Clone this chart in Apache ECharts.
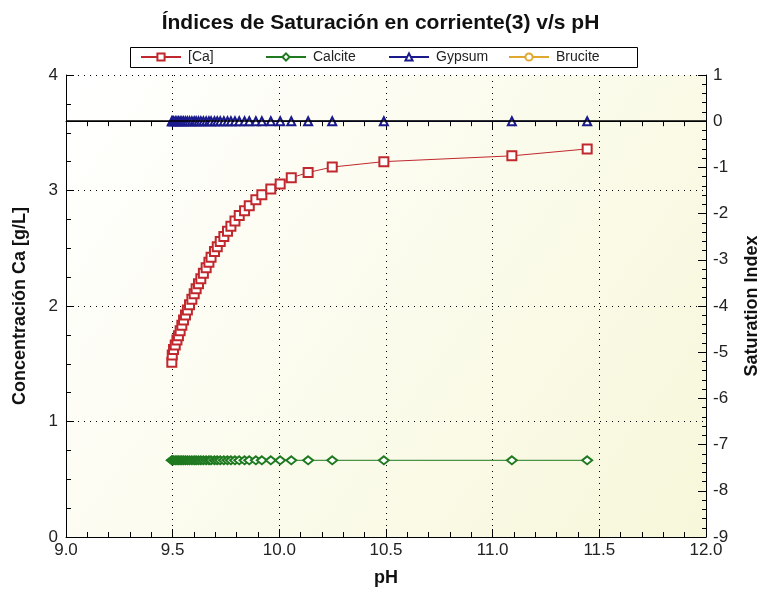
<!DOCTYPE html>
<html>
<head>
<meta charset="utf-8">
<title>Indices de Saturacion</title>
<script src="https://cdn.jsdelivr.net/npm/echarts/dist/echarts.min.js"></script>
<style>
  html, body { margin: 0; padding: 0; background: #fff; }
  #chart { width: 761px; height: 592px; }
</style>
</head>
<body>
<div id="chart"></div>
<script>
// pH of each simulation step (shared x for all series)
const phValues = [9.496, 9.498, 9.504, 9.512, 9.520, 9.527, 9.535, 9.543, 9.551, 9.560,
  9.569, 9.579, 9.590, 9.601, 9.610, 9.621, 9.632, 9.644, 9.657, 9.670,
  9.680, 9.696, 9.709, 9.723, 9.740, 9.757, 9.773, 9.792, 9.812, 9.837,
  9.859, 9.890, 9.918, 9.960, 10.004, 10.056, 10.135, 10.248, 10.49, 11.09, 11.443]
// [Ca] g/L (left axis)
const caValues = [1.512, 1.575, 1.624, 1.662, 1.705, 1.742, 1.786, 1.833, 1.878, 1.922,
  1.965, 2.011, 2.058, 2.107, 2.150, 2.193, 2.237, 2.284, 2.332, 2.379,
  2.422, 2.471, 2.514, 2.558, 2.601, 2.648, 2.691, 2.737, 2.783, 2.824,
  2.867, 2.919, 2.963, 3.012, 3.056, 3.110, 3.156, 3.203, 3.25, 3.30, 3.36]
// saturation indices (right axis)
const calciteSI = [-7.34, -7.34, -7.34, -7.34, -7.34, -7.34, -7.34, -7.34, -7.34, -7.34,
  -7.34, -7.34, -7.34, -7.34, -7.34, -7.34, -7.34, -7.34, -7.34, -7.34,
  -7.34, -7.34, -7.34, -7.34, -7.34, -7.34, -7.34, -7.34, -7.34, -7.34,
  -7.34, -7.34, -7.34, -7.34, -7.34, -7.34, -7.34, -7.34, -7.34, -7.34, -7.34]
const gypsumSI = [0, 0, 0, 0, 0, 0, 0, 0, 0, 0,
  0, 0, 0, 0, 0, 0, 0, 0, 0, 0,
  0, 0, 0, 0, 0, 0, 0, 0, 0, 0,
  0, 0, 0, 0, 0, 0, 0, 0, 0, 0, 0]
const bruciteSI = [] // not visible in the plot range
const seriesNames = ['[Ca]', 'Calcite', 'Gypsum', 'Brucite']
const xTicks = [9.0, 9.5, 10.0, 10.5, 11.0, 11.5, 12.0]

function pairs(xs, ys) {
  return ys.map(function (y, i) { return [xs[i], y] })
}

const font = 'Arial, "Liberation Sans", sans-serif'
const chart = echarts.init(document.getElementById('chart'), null, { renderer: 'canvas' })

// one legend per entry so the slots are evenly spaced like the original box
const legendLeft = [140, 265, 388, 508]
const legends = seriesNames.map(function (n, i) {
  return {
    data: [n],
    left: legendLeft[i],
    top: 50,
    padding: 0,
    itemWidth: 40,
    itemHeight: 9,
    itemGap: 0,
    textStyle: { fontFamily: font, fontSize: 14, color: '#222', padding: [0, 0, 0, 2] }
  }
})

const option = {
  animation: false,
  backgroundColor: '#fff',
  title: {
    text: 'Índices de Saturación en corriente(3) v/s pH',
    left: 'center',
    top: 8,
    textStyle: { fontFamily: font, fontSize: 21, fontWeight: 'bold', color: '#111' }
  },
  graphic: [{
    type: 'rect',
    left: 130,
    top: 47,
    shape: { width: 507, height: 20 },
    style: { fill: '#fff', stroke: '#000', lineWidth: 1 },
    z: -1
  }],
  legend: legends,
  grid: {
    left: 66,
    right: 55,
    top: 75,
    bottom: 55,
    outerBoundsMode: 'none',
    containLabel: false,
    show: true,
    borderWidth: 0,
    backgroundColor: new echarts.graphic.LinearGradient(0, 0, 1, 1, [
      { offset: 0, color: '#ffffff' },
      { offset: 1, color: '#f7f7da' }
    ])
  },
  xAxis: [{
    type: 'value',
    min: 9,
    max: 12,
    interval: 0.5,
    name: 'pH',
    nameLocation: 'middle',
    nameGap: 32,
    nameTextStyle: { fontFamily: font, fontSize: 18, fontWeight: 'bold', color: '#111' },
    axisLine: { lineStyle: { color: '#000', width: 1 } },
    axisTick: { inside: true, length: 8, lineStyle: { color: '#000' } },
    minorTick: { show: true, splitNumber: 5, length: 5, lineStyle: { color: '#000' } },
    axisLabel: {
      fontFamily: font, fontSize: 17, color: '#222', margin: 5,
      formatter: function (v) { return xTicks.indexOf(v) >= 0 ? v.toFixed(1) : '' }
    },
    splitLine: { show: true, lineStyle: { color: '#000', type: [1, 5], width: 1 } }
  }, {
    type: 'value',
    position: 'top',
    min: 9,
    max: 12,
    interval: 0.5,
    axisLine: { lineStyle: { color: '#000', width: 1 } },
    axisTick: { inside: true, length: 8, lineStyle: { color: '#000' } },
    minorTick: { show: true, splitNumber: 5, length: 5, lineStyle: { color: '#000' } },
    axisLabel: { show: false },
    splitLine: { show: false }
  }],
  yAxis: [{
    type: 'value',
    min: 0,
    max: 4,
    interval: 1,
    name: 'Concentración Ca [g/L]',
    nameLocation: 'middle',
    nameGap: 37,
    nameTextStyle: { fontFamily: font, fontSize: 18, fontWeight: 'bold', color: '#111' },
    axisLine: { show: true, lineStyle: { color: '#000', width: 1 } },
    axisTick: { show: true, inside: true, length: 8, lineStyle: { color: '#000' } },
    minorTick: { show: true, splitNumber: 4, length: 5, lineStyle: { color: '#000' } },
    axisLabel: { fontFamily: font, fontSize: 17, color: '#222', margin: 8 },
    splitLine: { show: true, lineStyle: { color: '#000', type: [1, 5], width: 1 } }
  }, {
    type: 'value',
    min: -9,
    max: 1,
    interval: 1,
    position: 'right',
    name: 'Saturation Index',
    nameLocation: 'middle',
    nameGap: 37,
    nameRotate: 90,
    nameTextStyle: { fontFamily: font, fontSize: 18, fontWeight: 'bold', color: '#111' },
    axisLine: { show: true, lineStyle: { color: '#000', width: 1 } },
    axisTick: { show: true, inside: true, length: 8, lineStyle: { color: '#000' } },
    minorTick: { show: true, splitNumber: 5, length: 4, lineStyle: { color: '#000' } },
    axisLabel: { fontFamily: font, fontSize: 17, color: '#222', margin: 7 },
    splitLine: { show: false }
  }],
  series: [{
    name: '[Ca]',
    type: 'line',
    yAxisIndex: 0,
    data: pairs(phValues, caValues),
    symbol: 'emptyRect',
    symbolSize: 9,
    color: '#c0282d',
    lineStyle: { width: 1, color: '#c0282d' },
    itemStyle: { color: '#c0282d', borderWidth: 1.2 },
    z: 4
  }, {
    name: 'Calcite',
    type: 'line',
    yAxisIndex: 1,
    data: pairs(phValues, calciteSI),
    symbol: 'emptyDiamond',
    symbolSize: [10, 8],
    color: '#1f7a1f',
    lineStyle: { width: 1, color: '#1f7a1f' },
    itemStyle: { color: '#1f7a1f', borderWidth: 1 },
    z: 3
  }, {
    name: 'Gypsum',
    type: 'line',
    yAxisIndex: 1,
    data: pairs(phValues, gypsumSI),
    symbol: 'emptyTriangle',
    symbolSize: 8,
    color: '#1a1a8c',
    lineStyle: { width: 1, color: '#1a1a8c' },
    itemStyle: { color: '#1a1a8c', borderWidth: 1 },
    markLine: {
      silent: true,
      symbol: 'none',
      label: { show: false },
      lineStyle: { color: '#000', type: 'solid', width: 1.5 },
      data: [{ yAxis: 0 }]
    },
    z: 3
  }, {
    name: 'Brucite',
    type: 'line',
    yAxisIndex: 1,
    data: bruciteSI,
    symbol: 'emptyCircle',
    symbolSize: 8,
    color: '#e0a82e',
    lineStyle: { width: 1, color: '#e0a82e' },
    itemStyle: { color: '#e0a82e' }
  }]
}

chart.setOption(option)
</script>
</body>
</html>
